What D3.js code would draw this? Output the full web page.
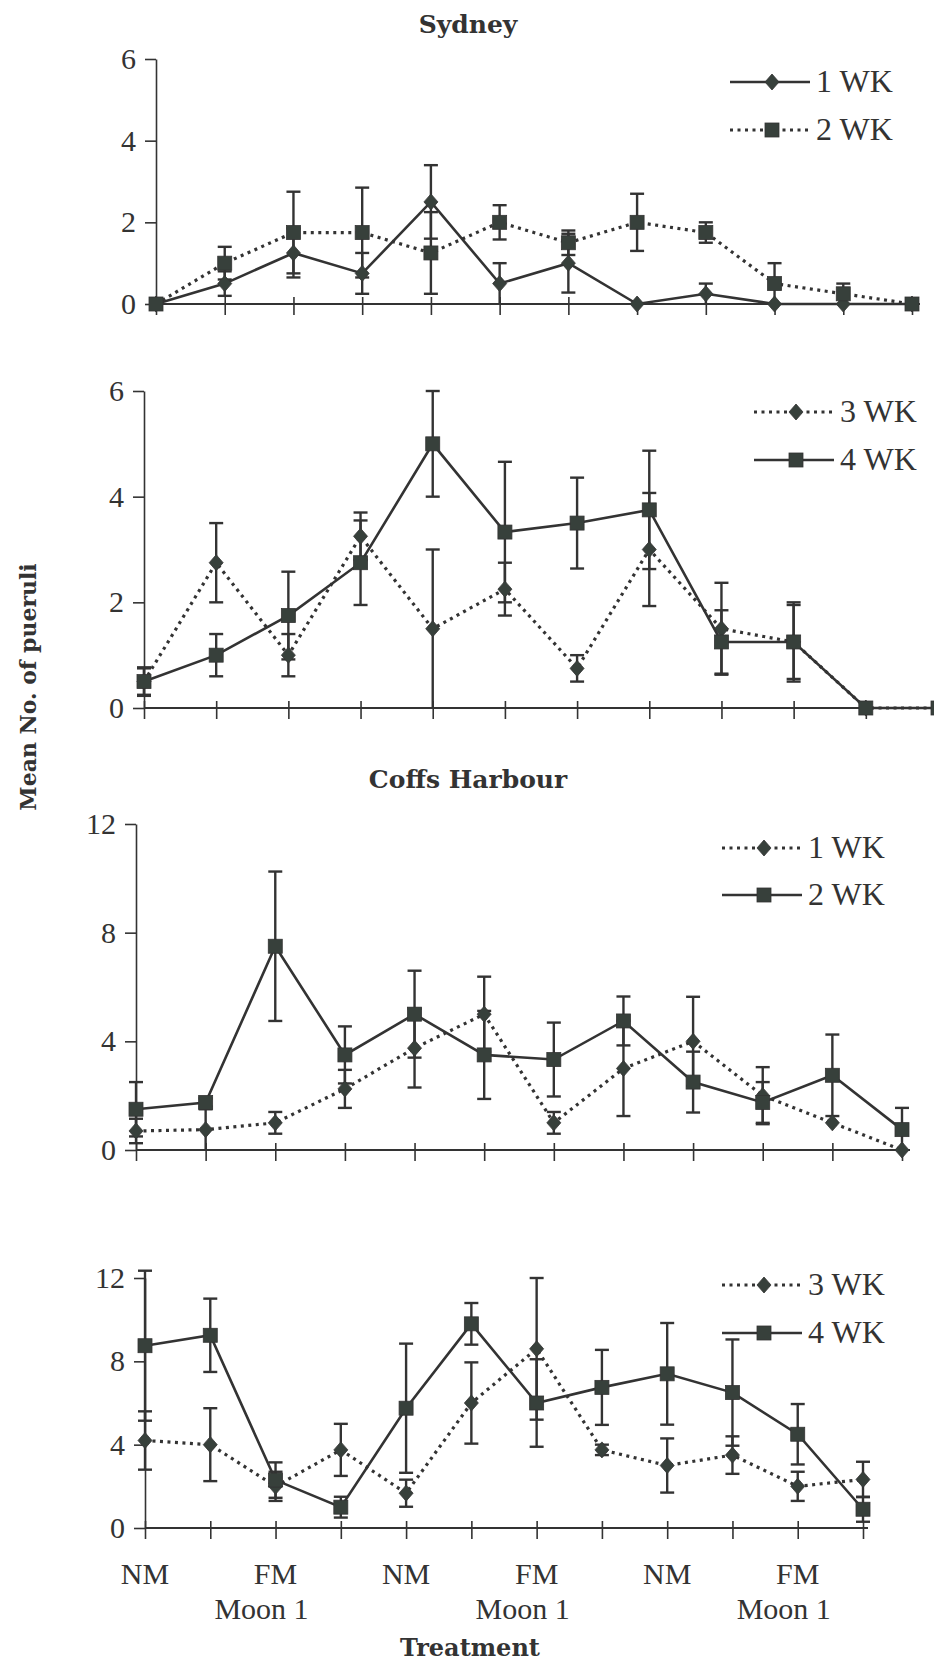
<!DOCTYPE html>
<html>
<head>
<meta charset="utf-8">
<script src="https://cdn.jsdelivr.net/npm/d3@7"></script>
<style>
  body { margin: 0; background: #fff; }
  svg { display: block; }
  .tick text { font-family: "Liberation Serif", serif; fill: #333; }
</style>
</head>
<body>
<svg id="chart" width="934" height="1665"></svg>
<script>
// treatment periods along the x axis
const periods = [1, 2, 3, 4, 5, 6, 7, 8, 9, 10, 11, 12];
const moonLabels = ["NM", "", "FM", "", "NM", "", "FM", "", "NM", "", "FM", ""];
const moonSubLabels = ["", "", "Moon 1", "", "", "", "Moon 1", "", "", "", "Moon 1", ""];

// Sydney, 1 and 2 week
const syd1wk = [0, 0.5, 1.25, 0.75, 2.5, 0.5, 1.0, 0, 0.25, 0, 0, 0];
const syd1wkErr = [0, 0.3, 0.6, 0.5, 0.9, 0.5, 0.72, 0, 0.25, 0, 0, 0];
const syd2wk = [0, 1.0, 1.75, 1.75, 1.25, 2.0, 1.5, 2.0, 1.75, 0.5, 0.25, 0];
const syd2wkErr = [0, 0.4, 1.0, 1.1, 1.0, 0.42, 0.3, 0.7, 0.25, 0.5, 0.25, 0];

// Sydney, 3 and 4 week
const syd3wk = [0.5, 2.75, 1.0, 3.25, 1.5, 2.25, 0.75, 3.0, 1.5, 1.25, 0, 0];
const syd3wkErr = [0.25, 0.75, 0.4, 0.45, 1.5, 0.5, 0.25, 1.07, 0.87, 0.7, 0, 0];
const syd4wk = [0.5, 1.0, 1.75, 2.75, 5.0, 3.33, 3.5, 3.75, 1.25, 1.25, 0, 0];
const syd4wkErr = [0.27, 0.4, 0.83, 0.8, 1.0, 1.33, 0.86, 1.12, 0.6, 0.75, 0, 0];

// Coffs Harbour, 1 and 2 week
const coffs1wk = [0.7, 0.75, 1.0, 2.25, 3.75, 5.0, 1.0, 3.0, 4.0, 2.0, 1.0, 0];
const coffs1wkErr = [0.45, 0.75, 0.4, 0.7, 1.45, 1.38, 0.4, 1.75, 1.64, 1.05, 0, 0];
const coffs2wk = [1.5, 1.75, 7.5, 3.5, 5.0, 3.5, 3.33, 4.75, 2.5, 1.75, 2.75, 0.75];
const coffs2wkErr = [1.0, 0.15, 2.75, 1.05, 1.6, 1.62, 1.36, 0.9, 1.12, 0.75, 1.5, 0.8];

// Coffs Harbour, 3 and 4 week
const coffs3wk = [4.2, 4.0, 2.0, 3.75, 1.67, 6.0, 8.6, 3.75, 3.0, 3.5, 2.0, 2.33];
const coffs3wkErr = [1.4, 1.75, 0.7, 1.25, 0.65, 1.95, 3.4, 0.25, 1.3, 0.9, 0.7, 0.85];
const coffs4wk = [8.75, 9.25, 2.3, 1.0, 5.75, 9.8, 6.0, 6.75, 7.4, 6.5, 4.5, 0.9];
const coffs4wkErr = [3.6, 1.76, 0.85, 0.5, 3.1, 1.0, 2.1, 1.8, 2.44, 2.55, 1.45, 0.6];

const ink = "#333";
const markFill = "#37403b";

// layout of the four stacked panels
const panels = [
  { title: "Sydney", titleY: 33, x0: 156, x1: 912, axisEnd: 920, yTop: 59, yBottom: 304, yMax: 6,
    yTicks: [0, 2, 4, 6], legX: 730, legY: [82, 130],
    series: [
      { name: "1 WK", values: syd1wk, err: syd1wkErr, dotted: false, shape: "diamond" },
      { name: "2 WK", values: syd2wk, err: syd2wkErr, dotted: true, shape: "square" }] },
  { title: null, x0: 144, x1: 938, axisEnd: 934, yTop: 391, yBottom: 708, yMax: 6,
    yTicks: [0, 2, 4, 6], legX: 754, legY: [412, 460],
    series: [
      { name: "3 WK", values: syd3wk, err: syd3wkErr, dotted: true, shape: "diamond" },
      { name: "4 WK", values: syd4wk, err: syd4wkErr, dotted: false, shape: "square" }] },
  { title: "Coffs Harbour", titleY: 788, x0: 136, x1: 902, axisEnd: 910, yTop: 824, yBottom: 1150, yMax: 12,
    yTicks: [0, 4, 8, 12], legX: 722, legY: [848, 895],
    series: [
      { name: "1 WK", values: coffs1wk, err: coffs1wkErr, dotted: true, shape: "diamond" },
      { name: "2 WK", values: coffs2wk, err: coffs2wkErr, dotted: false, shape: "square" }] },
  { title: null, x0: 145, x1: 863, axisEnd: 868, yTop: 1278, yBottom: 1528, yMax: 12,
    yTicks: [0, 4, 8, 12], legX: 722, legY: [1285, 1333], bottomLabels: true,
    series: [
      { name: "3 WK", values: coffs3wk, err: coffs3wkErr, dotted: true, shape: "diamond" },
      { name: "4 WK", values: coffs4wk, err: coffs4wkErr, dotted: false, shape: "square" }] }
];

var svg = d3.select("#chart");

function marker(sel, shape) {
  if (shape == "square") {
    sel.append("rect").attr("x", -7).attr("y", -7).attr("width", 14).attr("height", 14)
      .attr("fill", markFill).attr("stroke", ink).attr("stroke-width", 0.8);
  } else {
    sel.append("path").attr("d", "M0,-8L7,0L0,8L-7,0Z")
      .attr("fill", markFill).attr("stroke", ink).attr("stroke-width", 0.8);
  }
}

function styleLine(sel, dotted) {
  sel.attr("fill", "none").attr("stroke", ink)
    .attr("stroke-width", dotted ? 3.2 : 2.6)
    .attr("stroke-dasharray", dotted ? "3,4.5" : null);
}

panels.forEach(p => {
  const x = d3.scaleLinear().domain([1, 12]).range([p.x0, p.x1]);
  const y = d3.scaleLinear().domain([0, p.yMax]).range([p.yBottom, p.yTop]);
  const g = svg.append("g");

  if (p.title) {
    g.append("text").attr("x", 468).attr("y", p.titleY).attr("text-anchor", "middle")
      .style("font-family", "DejaVu Serif").style("font-weight", "bold").style("font-size", "25px")
      .attr("fill", ink).text(p.title);
  }

  // y axis
  const yAxis = g.append("g").attr("transform", `translate(${p.x0},0)`)
    .call(d3.axisLeft(y).tickValues(p.yTicks).tickFormat(d3.format("d"))
      .tickSize(11).tickSizeOuter(0).tickPadding(9));
  yAxis.select(".domain").attr("stroke", ink).attr("stroke-width", 1.6);
  yAxis.selectAll(".tick line").attr("stroke", ink).attr("stroke-width", 1.6);
  yAxis.selectAll(".tick text").style("font-size", "30px");

  // x axis, ticks crossing the line
  const xAxis = g.append("g").attr("transform", `translate(0,${p.yBottom})`)
    .call(d3.axisBottom(x).tickValues(periods).tickFormat("").tickSize(11).tickSizeOuter(0));
  xAxis.select(".domain").remove();
  xAxis.selectAll(".tick line").attr("y1", -7).attr("stroke", ink).attr("stroke-width", 1.6);
  xAxis.append("line").attr("x1", p.x0).attr("x2", p.axisEnd).attr("y1", 0).attr("y2", 0)
    .attr("stroke", ink).attr("stroke-width", 2);

  // error bars first
  p.series.forEach(s => {
    const eb = g.append("g").selectAll("g").data(periods.filter((d, i) => s.err[i] > 0)).join("g")
      .attr("stroke", ink).attr("stroke-width", 2.4);
    eb.append("line")
      .attr("x1", d => x(d)).attr("x2", d => x(d))
      .attr("y1", d => y(s.values[d - 1] + s.err[d - 1]))
      .attr("y2", d => y(Math.max(0, s.values[d - 1] - s.err[d - 1])));
    eb.append("line")
      .attr("x1", d => x(d) - 7).attr("x2", d => x(d) + 7)
      .attr("y1", d => y(s.values[d - 1] + s.err[d - 1]))
      .attr("y2", d => y(s.values[d - 1] + s.err[d - 1]));
    eb.filter(d => s.values[d - 1] - s.err[d - 1] > 0.02).append("line")
      .attr("x1", d => x(d) - 7).attr("x2", d => x(d) + 7)
      .attr("y1", d => y(s.values[d - 1] - s.err[d - 1]))
      .attr("y2", d => y(s.values[d - 1] - s.err[d - 1]));
  });

  // lines
  p.series.forEach(s => {
    const line = d3.line().x((d, i) => x(periods[i])).y(d => y(d));
    g.append("path").datum(s.values).attr("d", line).call(styleLine, s.dotted);
  });

  // markers
  p.series.forEach(s => {
    g.append("g").selectAll("g").data(s.values).join("g")
      .attr("transform", (d, i) => `translate(${x(periods[i])},${y(d)})`)
      .each(function () { marker(d3.select(this), s.shape); });
  });

  // legend
  p.series.forEach((s, k) => {
    const ly = p.legY[k];
    const lg = g.append("g").attr("transform", `translate(${p.legX},${ly})`);
    lg.append("line").attr("x1", 0).attr("x2", 80).attr("y1", 0).attr("y2", 0).call(styleLine, s.dotted);
    lg.append("g").attr("transform", "translate(42,0)").each(function () { marker(d3.select(this), s.shape); });
    lg.append("text").attr("x", 86).attr("y", 10)
      .style("font-family", "Liberation Serif").style("font-size", "32px")
      .attr("fill", ink).text(s.name);
  });

  if (p.bottomLabels) {
    const lab = g.append("g").style("font-family", "Liberation Serif").style("font-size", "30px")
      .attr("fill", ink).attr("text-anchor", "middle");
    lab.selectAll("text.moon").data(periods.filter((d, i) => moonLabels[i] != "")).join("text")
      .attr("class", "moon").attr("x", d => x(d)).attr("y", p.yBottom + 56)
      .text(d => moonLabels[d - 1]);
    lab.selectAll("text.sub").data(periods.filter((d, i) => moonSubLabels[i] != "")).join("text")
      .attr("class", "sub").attr("x", d => x(d) - 14).attr("y", p.yBottom + 91)
      .text(d => moonSubLabels[d - 1]);
    g.append("text").attr("x", 470).attr("y", 1656).attr("text-anchor", "middle")
      .style("font-family", "DejaVu Serif").style("font-weight", "bold").style("font-size", "24px")
      .attr("fill", ink).text("Treatment");
  }
});

// shared y axis title
svg.append("text")
  .attr("transform", "translate(36,687) rotate(-90)")
  .attr("text-anchor", "middle")
  .style("font-family", "DejaVu Serif").style("font-weight", "bold").style("font-size", "22px")
  .attr("fill", ink).text("Mean No. of pueruli");
</script>
</body>
</html>
